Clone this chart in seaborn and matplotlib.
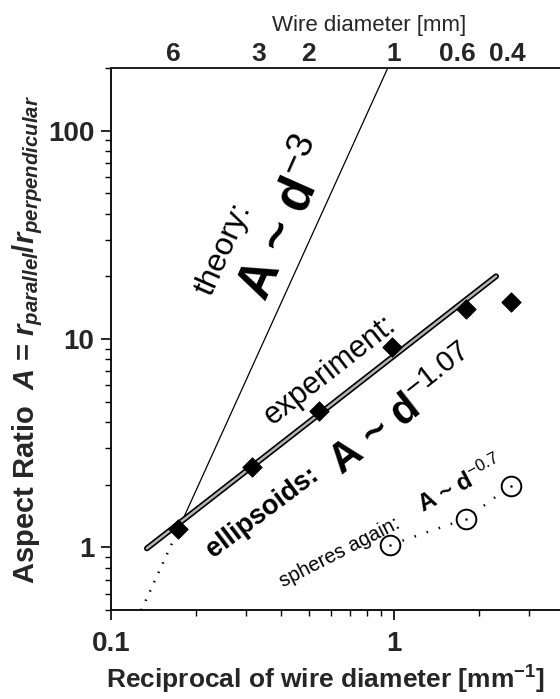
import matplotlib
matplotlib.use("Agg")
import matplotlib.pyplot as plt
import matplotlib.ticker as mticker
import seaborn as sns

# reciprocal wire diameter [1/mm] vs aspect ratio, filled diamonds (ellipsoids)
recip_d = [0.173, 0.316, 0.544, 0.984, 1.79, 2.58]
aspect = [1.22, 2.43, 4.54, 9.17, 13.96, 15.1]

# open circles (spheres again)
sph_x = [0.97, 1.80, 2.58]
sph_y = [1.03, 1.375, 1.98]

# guide lines, end points
fit_x = [0.134, 2.29]
fit_y = [0.99, 20.0]
theory_x = [0.173, 0.95]
theory_y = [1.22, 200.0]
theory_low_x = [0.128, 0.173]
theory_low_y = [0.50, 1.22]

# top axis: wire diameter in mm
top_d = [6, 3, 2, 1, 0.6, 0.4]
top_labels = ["6", "3", "2", "1", "0.6", "0.4"]

sns.set_style("ticks")
plt.rcParams["font.family"] = ["Liberation Sans", "DejaVu Sans"]
plt.rcParams["mathtext.fontset"] = "custom"
plt.rcParams["mathtext.rm"] = "Liberation Sans"
plt.rcParams["mathtext.bf"] = "Liberation Sans:bold"
plt.rcParams["mathtext.it"] = "Liberation Sans:italic:bold"

fig = plt.figure(figsize=(5.6, 6.99), dpi=100)
ax = fig.add_axes([0.198, 0.127, 0.802, 0.776])
ax.set_xscale("log")
ax.set_yscale("log")

# theory line (solid above the first point, dotted below)
sns.lineplot(x=theory_x, y=theory_y, ax=ax, color="black", lw=0.9)
sns.lineplot(x=theory_low_x, y=theory_low_y, ax=ax, color="black", lw=1.8,
             linestyle=(0, (0.6, 3.5)))

# experimental fit line: dark outline with grey core
sns.lineplot(x=fit_x, y=fit_y, ax=ax, color="black", lw=4.2)
sns.lineplot(x=fit_x, y=fit_y, ax=ax, color="#b4b4b4", lw=1.8)

sns.scatterplot(x=recip_d, y=aspect, ax=ax, marker="D", s=95, color="black",
                edgecolor="black", zorder=5)

# spheres: dotted guide + circled dots
sns.lineplot(x=sph_x, y=sph_y, ax=ax, color="black", lw=1.8,
             linestyle=(0, (0.6, 4.5)))
sns.scatterplot(x=sph_x, y=sph_y, ax=ax, marker="o", s=200, facecolor="white",
                edgecolor="black", linewidth=1.4, zorder=5)
sns.scatterplot(x=sph_x, y=sph_y, ax=ax, marker="o", s=4, color="black",
                zorder=6)

ax.set_xlim(0.1, 3.85)
ax.set_ylim(0.5, 200)

ax.xaxis.set_major_locator(mticker.FixedLocator([0.1, 1]))
ax.xaxis.set_major_formatter(mticker.FixedFormatter(["0.1", "1"]))
ax.yaxis.set_major_locator(mticker.FixedLocator([1, 10, 100]))
ax.yaxis.set_major_formatter(mticker.FixedFormatter(["1", "10", "100"]))
ax.xaxis.set_minor_locator(mticker.LogLocator(base=10, subs=range(2, 10)))
ax.yaxis.set_minor_locator(mticker.LogLocator(base=10, subs=range(2, 10)))
ax.xaxis.set_minor_formatter(mticker.NullFormatter())
ax.yaxis.set_minor_formatter(mticker.NullFormatter())
ax.tick_params(which="major", direction="out", length=7, width=1.2,
               labelsize=20, color="black")
ax.tick_params(axis="x", which="major", pad=8)
ax.tick_params(axis="y", which="major", pad=5)
ax.tick_params(which="minor", direction="out", length=4, width=1.0,
               color="black")
for lab in ax.get_xticklabels() + ax.get_yticklabels():
    lab.set_fontweight("bold")

for side in ["left", "bottom", "top"]:
    ax.spines[side].set_linewidth(1.3)
    ax.spines[side].set_color("black")
ax.spines["right"].set_visible(False)

ax.set_xlabel(r"Reciprocal of wire diameter [mm$^{\mathbf{-1}}$]",
              fontsize=19, fontweight="bold", labelpad=5, x=0.477)
ax.set_ylabel(r"Aspect Ratio  $\mathit{A}$ = $\mathit{r}_{\mathit{parallel}}$/$\mathit{r}_{\mathit{perpendicular}}$",
              fontsize=21, fontweight="bold", labelpad=2)

# top axis with wire diameters
ax2 = ax.twiny()
ax2.set_xscale("log")
ax2.set_xlim(ax.get_xlim())
ax2.xaxis.set_major_locator(mticker.FixedLocator([1 / d for d in top_d]))
ax2.xaxis.set_major_formatter(mticker.FixedFormatter(top_labels))
ax2.xaxis.set_minor_locator(mticker.NullLocator())
ax2.tick_params(axis="x", length=0, labelsize=19, pad=1)
for lab in ax2.get_xticklabels():
    lab.set_fontweight("bold")
ax2.set_xlabel("Wire diameter [mm]", fontsize=16)
ax2.xaxis.set_label_coords(0.575, 1.068)
for side in ["right", "left", "bottom"]:
    ax2.spines[side].set_visible(False)
ax2.spines["top"].set_linewidth(1.3)

# annotations (centre positions in data units)
kw = dict(ha="center", va="center", rotation_mode="anchor", color="black")
ax.text(0.250, 27.0, "theory:", fontsize=23, rotation=66, **kw)
ax.text(0.419, 37.3, r"A ~ d$^{-3}$", fontsize=37, fontweight="bold",
        rotation=66, **kw)
ax.text(0.593, 7.1, "experiment:", fontsize=22, rotation=38, **kw)
ax.text(0.342, 1.48, "ellipsoids:", fontsize=19.5, fontweight="bold",
        rotation=37, **kw)
ax.text(1.09, 4.40, r"A ~ d$^{-1.07}$", fontsize=30, fontweight="bold",
        rotation=38, **kw)
ax.text(0.644, 0.95, "spheres again:", fontsize=14.5, rotation=27, **kw)
ax.text(1.708, 1.99, r"A ~ d$^{-0.7}$", fontsize=17, fontweight="bold",
        rotation=28, **kw)

fig.savefig("out.png", dpi=100)
